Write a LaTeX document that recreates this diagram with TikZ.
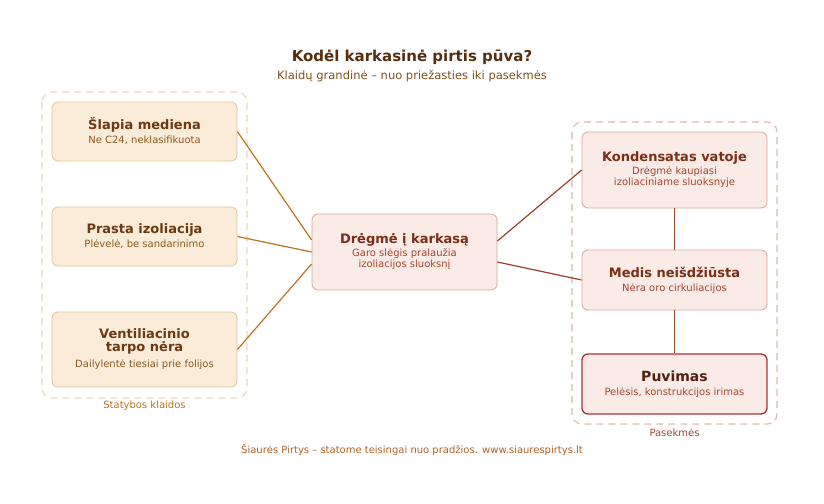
\documentclass[tikz,border=0pt]{standalone}
\usepackage{fontspec}
\setmainfont{DejaVu Sans}
\usetikzlibrary{positioning}
\definecolor{sandfill}{HTML}{FBECD9}
\definecolor{sanddraw}{HTML}{E2C394}
\definecolor{sandtext}{HTML}{6B3A12}
\definecolor{sandsub}{HTML}{8E5A1E}
\definecolor{sandline}{HTML}{B8741F}
\definecolor{rosefill}{HTML}{FAEBE6}
\definecolor{rosedraw}{HTML}{D9A899}
\definecolor{rosetext}{HTML}{7A2E18}
\definecolor{rosesub}{HTML}{A5452F}
\definecolor{roseline}{HTML}{9C3E2A}
\definecolor{rotdraw}{HTML}{A83434}
\tikzset{
  cause/.style={draw=sanddraw,fill=sandfill,line width=0.8pt,rounded corners=6pt,minimum width=185pt,align=center,text=sandtext},
  effect/.style={draw=rosedraw,fill=rosefill,line width=0.8pt,rounded corners=6pt,minimum width=185pt,align=center,text=rosetext},
  group/.style={line width=1.1pt,dash pattern=on 7pt off 5pt,rounded corners=10pt},
  link/.style={line width=1.2pt}
}
\newcommand{\bt}[1]{{\fontsize{13}{16}\selectfont\bfseries #1}}
\newcommand{\st}[2]{{\fontsize{10}{16}\selectfont\color{#1}#2}}
\begin{document}
\begin{tikzpicture}[x=1pt,y=-1pt]
  \useasboundingbox (0,0) rectangle (824,503);

  % groups
  \draw[group,draw=sanddraw!70] (42,92) rectangle (247,398);
  \draw[group,draw=rosedraw!80] (572,122) rectangle (777,424);

  % causes
  \node[cause,minimum height=59pt] (slap) at (144.5,131.5) {\bt{Šlapia mediena}\\[2pt]\st{sandsub}{Ne C24, neklasifikuota}};
  \node[cause,minimum height=59pt] (izol) at (144.5,236.5) {\bt{Prasta izoliacija}\\[2pt]\st{sandsub}{Plėvelė, be sandarinimo}};
  \node[cause,minimum height=75pt] (vent) at (144.5,349.5) {\bt{Ventiliacinio}\\[1pt]\bt{tarpo nėra}\\[4pt]\st{sandsub}{Dailylentė tiesiai prie folijos}};

  % centre
  \node[effect,minimum height=76pt] (dreg) at (404.5,252) {\bt{Drėgmė į karkasą}\\[1pt]\st{rosesub}{Garo slėgis pralaužia}\\[-1pt]\st{rosesub}{izoliacijos sluoksnį}};

  % effects
  \node[effect,minimum height=76pt] (kond) at (674.5,170) {\bt{Kondensatas vatoje}\\[1pt]\st{rosesub}{Drėgmė kaupiasi}\\[-1pt]\st{rosesub}{izoliaciniame sluoksnyje}};
  \node[effect,minimum height=60pt] (medis) at (674.5,280) {\bt{Medis neišdžiūsta}\\[2pt]\st{rosesub}{Nėra oro cirkuliacijos}};
  \node[effect,draw=rotdraw,line width=1.3pt,minimum height=60pt,text=rosetext!70!black] (puv) at (674.5,384) {{\fontsize{14}{17}\selectfont\bfseries Puvimas}\\[2pt]\st{rosesub}{Pelėsis, konstrukcijos irimas}};

  % connectors
  \draw[link,sandline] (slap.east) -- ([yshift=12pt]dreg.west);
  \draw[link,sandline] (izol.east) -- (dreg.west);
  \draw[link,sandline] (vent.east) -- ([yshift=-12pt]dreg.west);
  \draw[link,roseline] ([yshift=11pt]dreg.east) -- (kond.west);
  \draw[link,roseline] ([yshift=-10pt]dreg.east) -- (medis.west);
  \draw[link,roseline!80!sandline] (kond) -- (medis);
  \draw[link,roseline!80!sandline] (medis) -- (puv);

  % labels
  \node[text=sandline,font=\fontsize{10}{12}\selectfont] (lstat) at (144.5,406) {Statybos klaidos};
  \node[text=rosesub,font=\fontsize{10}{12}\selectfont] (lpas) at (674.5,433) {Pasekmės};
  \node[text=sandtext!80!black,font=\fontsize{15}{18}\selectfont\bfseries] (title) at (412,57) {Kodėl karkasinė pirtis pūva?};
  \node[text=sandsub!90!black,font=\fontsize{11.5}{14}\selectfont] (sub) at (412,76) {Klaidų grandinė – nuo priežasties iki pasekmės};
  \node[text=sandline!60!rosesub,font=\fontsize{10}{12}\selectfont] (foot) at (412,450) {Šiaurės Pirtys – statome teisingai nuo pradžios. www.siaurespirtys.lt};
\end{tikzpicture}
\end{document}
